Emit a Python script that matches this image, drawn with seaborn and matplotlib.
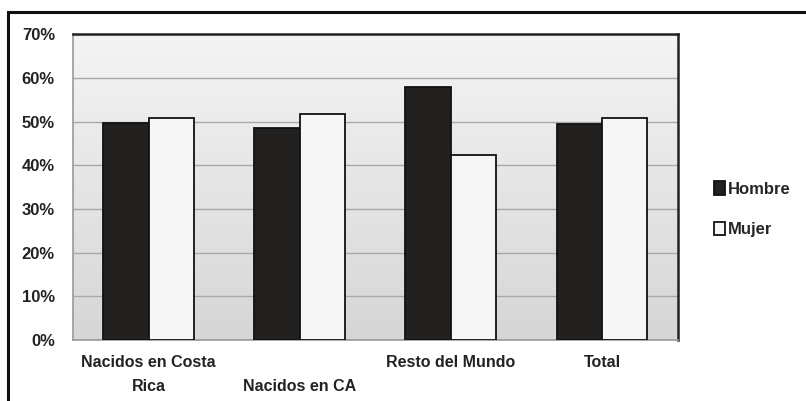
import numpy as np
import pandas as pd
import seaborn as sns
import matplotlib.pyplot as plt
from matplotlib.patches import Rectangle

# values (percent)
categories = ['Nacidos en Costa\nRica', '\nNacidos en CA', 'Resto del Mundo', 'Total']
hombre = [49.7, 48.6, 58.0, 49.5]
mujer = [50.7, 51.7, 42.4, 50.7]
series = ['Hombre', 'Mujer']
yticks = [0, 10, 20, 30, 40, 50, 60, 70]

df = pd.DataFrame({
    'categoria': categories * 2,
    'sexo': ['Hombre'] * len(categories) + ['Mujer'] * len(categories),
    'valor': hombre + mujer,
})

sns.set_style('white')
plt.rcParams['font.family'] = ['Liberation Sans Narrow', 'Liberation Sans', 'DejaVu Sans']

fig = plt.figure(figsize=(8.06, 4.01), dpi=100)
ax = fig.add_axes([0.0906, 0.152, 0.750, 0.763])

# outer frame (open to the right/bottom like the cropped original)
fig.patches.append(Rectangle((8 / 806, -0.1), 1.2, 1 - 12 / 401 + 0.1,
                             transform=fig.transFigure, fill=False,
                             edgecolor='#111111', linewidth=2.2))

# gradient background of plot area
grad = np.linspace(0, 1, 256).reshape(-1, 1)
ax.imshow(grad, extent=(0, 1, 0, 1), transform=ax.transAxes, aspect='auto',
          cmap=plt.matplotlib.colors.LinearSegmentedColormap.from_list(
              'bg', ['#f4f4f4', '#d6d6d6']), zorder=0)

bars = sns.barplot(data=df, x='categoria', y='valor', hue='sexo',
                   hue_order=series,
                   palette={'Hombre': '#231f20', 'Mujer': '#f6f6f6'},
                   width=0.6, gap=0, edgecolor='#111111', linewidth=1.3,
                   ax=ax, zorder=3)

ax.set_xlim(-0.5, len(categories) - 0.5)
ax.set_ylim(0, 70)
ax.set_yticks(yticks)
ax.set_yticklabels([f'{v}%' for v in yticks])
ax.yaxis.grid(True, color='#a8a8a8', linewidth=1.0, zorder=1)
ax.set_axisbelow(True)
ax.set(xlabel='', ylabel='')

ax.tick_params(axis='y', which='major', length=5, color='#999999',
               labelsize=12, pad=8)
ax.tick_params(axis='x', which='major', length=0, labelsize=11.5, pad=11)
ax.set_xticks(np.arange(-0.5, len(categories)), minor=True)
ax.tick_params(axis='x', which='minor', length=5, color='#bbbbbb')
for lab in ax.get_xticklabels() + ax.get_yticklabels():
    lab.set_fontweight('bold')
    lab.set_color('#222222')
for lab in ax.get_xticklabels():
    lab.set_linespacing(1.75)

for side in ['left', 'bottom']:
    ax.spines[side].set_color('#999999')
    ax.spines[side].set_linewidth(1.2)
for side in ['top', 'right']:
    ax.spines[side].set_color('#222222')
    ax.spines[side].set_linewidth(1.8)

handles, labels = ax.get_legend_handles_labels()
ax.legend(handles, labels, loc='center left', bbox_to_anchor=(0.867, 0.478),
          bbox_transform=fig.transFigure, frameon=False,
          handlelength=0.7, handleheight=0.85, handletextpad=0.15,
          labelspacing=1.5, prop={'size': 12, 'weight': 'bold'})

plt.savefig('out.png', dpi=100)
